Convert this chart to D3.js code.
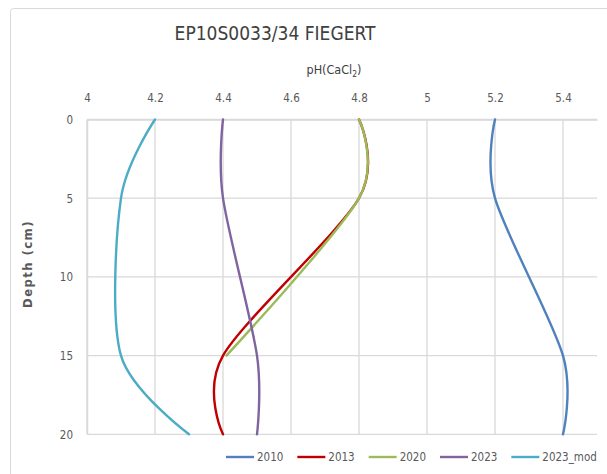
<!DOCTYPE html>
<html>
<head>
<meta charset="utf-8">
<script src="https://cdn.jsdelivr.net/npm/d3@7"></script>
<style>
  html, body { margin: 0; padding: 0; background: #fff; }
  svg { display: block; }
  text { font-family: "Liberation Sans Narrow", "DejaVu Sans Condensed", "Liberation Sans", sans-serif; }
</style>
</head>
<body>
<svg id="chart" width="607" height="474"></svg>
<script>
// Soil pH profile by sampling year
const depths = [0, 5, 15, 20];
const depths2020 = [0, 5, 15];
const ph2010 = [5.2, 5.2, 5.4, 5.4];
const ph2013 = [4.8, 4.8, 4.4, 4.4];
const ph2020 = [4.8, 4.8, 4.41];
const ph2023 = [4.4, 4.4, 4.5, 4.5];
const ph2023mod = [4.2, 4.1, 4.1, 4.3];
const seriesNames = ["2010", "2013", "2020", "2023", "2023_mod"];
const xTicks = [4, 4.2, 4.4, 4.6, 4.8, 5, 5.2, 5.4];
const yTicks = [0, 5, 10, 15, 20];

const series = [
  { name: seriesNames[0], color: "#4F81BD", pts: depths.map((d, i) => ({ d, v: ph2010[i] })) },
  { name: seriesNames[1], color: "#C00000", pts: depths.map((d, i) => ({ d, v: ph2013[i] })) },
  { name: seriesNames[2], color: "#9BBB59", pts: depths2020.map((d, i) => ({ d, v: ph2020[i] })) },
  { name: seriesNames[3], color: "#8064A2", pts: depths.map((d, i) => ({ d, v: ph2023[i] })) },
  { name: seriesNames[4], color: "#4BACC6", pts: depths.map((d, i) => ({ d, v: ph2023mod[i] })) }
];

const svg = d3.select("#chart");
const plot = { left: 87, right: 597, top: 119.5, bottom: 434.3 };

const x = d3.scaleLinear().domain([4, 5.5]).range([plot.left, plot.right]);
const y = d3.scaleLinear().domain([0, 20]).range([plot.top, plot.bottom]);

// chart frame
svg.append("rect")
  .attr("x", 10.5).attr("y", 8.5)
  .attr("width", 620).attr("height", 480)
  .attr("rx", 3)
  .attr("fill", "#fff").attr("stroke", "#d9d9d9").attr("stroke-width", 1);

// gridlines
const grid = svg.append("g");
grid.selectAll("line.v").data(xTicks).join("line")
  .attr("x1", d => x(d)).attr("x2", d => x(d))
  .attr("y1", plot.top).attr("y2", plot.bottom)
  .attr("stroke", "#d9d9d9").attr("stroke-width", 1.3);
grid.selectAll("line.h").data(yTicks).join("line")
  .attr("x1", plot.left).attr("x2", plot.right)
  .attr("y1", d => y(d)).attr("y2", d => y(d))
  .attr("stroke", "#d9d9d9").attr("stroke-width", 1.3);

// axes
const xAxis = d3.axisTop(x).tickValues(xTicks).tickSize(0).tickPadding(0).tickFormat(d3.format("~g"));
const gx = svg.append("g").attr("transform", `translate(0,${plot.top})`).call(xAxis);
gx.select(".domain").attr("stroke", "#d9d9d9").attr("stroke-width", 1.5);
gx.selectAll("text").attr("y", -22).attr("dy", "0.35em")
  .attr("fill", "#595959").style("font-size", "11.5px");

const yAxis = d3.axisLeft(y).tickValues(yTicks).tickSize(0).tickPadding(0);
const gy = svg.append("g").attr("transform", `translate(${plot.left},0)`).call(yAxis);
gy.select(".domain").attr("stroke", "#d9d9d9").attr("stroke-width", 1.5);
gy.selectAll("text").attr("x", -14).attr("dy", "0.35em")
  .attr("fill", "#595959").style("font-size", "11.5px");

// titles
svg.append("text")
  .attr("x", 275).attr("y", 33).attr("dy", "0.35em")
  .attr("text-anchor", "middle")
  .attr("fill", "#404040").style("font-size", "19px")
  .text("EP10S0033/34 FIEGERT");

const xt = svg.append("text")
  .attr("x", 334).attr("y", 70).attr("dy", "0.35em")
  .attr("text-anchor", "middle")
  .attr("fill", "#404040").style("font-size", "12.5px");
xt.append("tspan").text("pH(CaCl");
xt.append("tspan").attr("dy", "3").style("font-size", "8.5px").text("2");
xt.append("tspan").attr("dy", "-3").text(")");

svg.append("text")
  .attr("transform", "translate(27,264) rotate(-90)")
  .attr("dy", "0.35em")
  .attr("text-anchor", "middle")
  .attr("fill", "#595959").style("font-size", "13px").style("font-weight", "bold")
  .style("letter-spacing", "1.4px")
  .text("Depth (cm)");

// profile lines
const line = d3.line()
  .x(p => x(p.v))
  .y(p => y(p.d))
  .curve(d3.curveCardinal.tension(0.1));

svg.append("g").selectAll("path").data(series).join("path")
  .attr("d", s => line(s.pts))
  .attr("fill", "none")
  .attr("stroke", s => s.color)
  .attr("stroke-width", 2.4)
  .attr("stroke-linejoin", "round")
  .attr("stroke-linecap", "round");

// legend
const legend = svg.append("g").attr("transform", "translate(226,457)");
let lx = 0;
series.forEach(s => {
  const g = legend.append("g").attr("transform", `translate(${lx},0)`);
  g.append("line").attr("x1", 0).attr("x2", 28).attr("y1", 0).attr("y2", 0)
    .attr("stroke", s.color).attr("stroke-width", 2.4);
  const t = g.append("text").attr("x", 31).attr("dy", "0.35em")
    .attr("fill", "#595959").style("font-size", "11.5px").text(s.name);
  lx += 31 + t.node().getComputedTextLength() + 14;
});
</script>
</body>
</html>
